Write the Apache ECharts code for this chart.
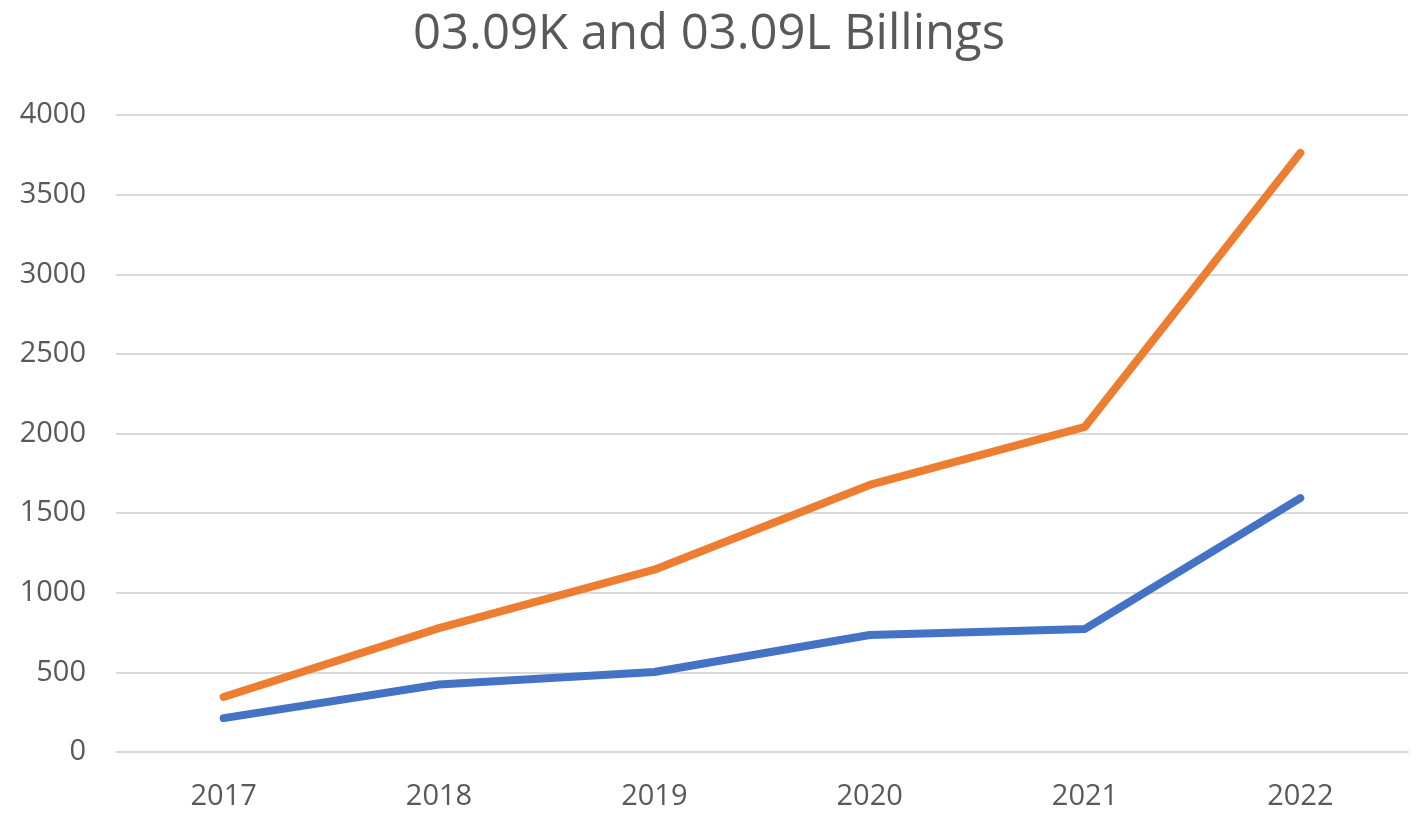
<!DOCTYPE html>
<html style="height: 100%">
    <head>
        <meta charset="utf-8">
        <script type="text/javascript" src="https://cdn.jsdelivr.net/npm/echarts@6/dist/echarts.min.js"></script>
    </head>
    <body style="height: 100%; margin: 0; background: #fff">
        <div id="main" style="width: 1418px; height: 822px"></div>
        <script type="text/javascript">
            var years = ['2017', '2018', '2019', '2020', '2021', '2022'];
            var billingsK = [213, 424, 502, 735, 773, 1594];
            var billingsL = [345, 778, 1145, 1677, 2042, 3762];

            var myChart = echarts.init(document.getElementById('main'));
            myChart.setOption({
                backgroundColor: '#ffffff',
                animation: false,
                title: {
                    text: '03.09K and 03.09L Billings',
                    left: 'center',
                    top: 6,
                    textStyle: {
                        color: '#595959',
                        fontFamily: 'Open Sans',
                        fontWeight: 'normal',
                        fontSize: 49
                    }
                },
                grid: {
                    left: 116,
                    right: 10,
                    top: 115,
                    bottom: 70
                },
                xAxis: {
                    type: 'category',
                    data: years,
                    boundaryGap: true,
                    axisLine: { lineStyle: { color: '#d9d9d9', width: 2 } },
                    axisTick: { show: false },
                    axisLabel: {
                        color: '#595959',
                        fontFamily: 'Open Sans',
                        fontSize: 29,
                        margin: 30
                    }
                },
                yAxis: {
                    type: 'value',
                    min: 0,
                    max: 4000,
                    interval: 500,
                    axisLine: { show: false },
                    axisTick: { show: false },
                    splitLine: { lineStyle: { color: '#d9d9d9', width: 2 } },
                    axisLabel: {
                        color: '#595959',
                        fontFamily: 'Open Sans',
                        fontSize: 29,
                        margin: 30,
                        formatter: function (v) { return String(v); }
                    }
                },
                series: [
                    {
                        name: '03.09K',
                        type: 'line',
                        data: billingsK,
                        symbol: 'none',
                        lineStyle: { color: '#4472c4', width: 8, cap: 'round', join: 'round' }
                    },
                    {
                        name: '03.09L',
                        type: 'line',
                        data: billingsL,
                        symbol: 'none',
                        lineStyle: { color: '#ed7d31', width: 8, cap: 'round', join: 'round' }
                    }
                ]
            });
        </script>
    </body>
</html>
